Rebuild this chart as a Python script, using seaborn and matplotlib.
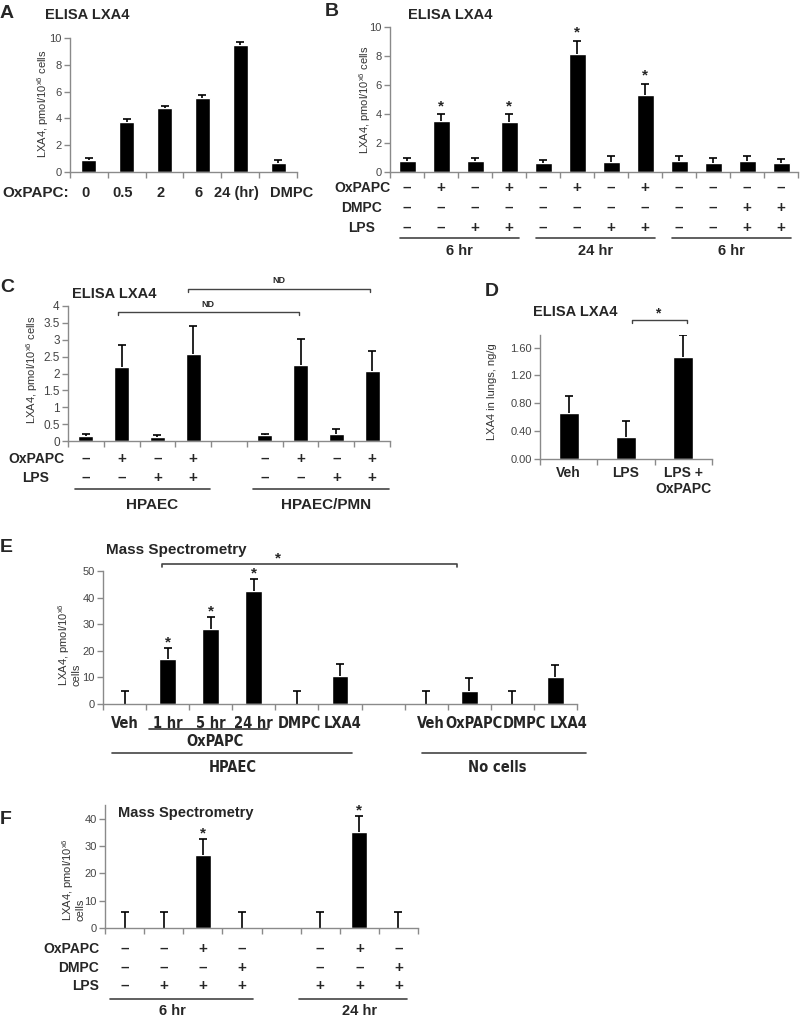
import numpy as np
import pandas as pd
import matplotlib
matplotlib.use("Agg")
import matplotlib.pyplot as plt
import matplotlib.transforms as mtransforms
from matplotlib import font_manager as fm
import seaborn as sns

# ---- data ----
# A: ELISA, OxPAPC time course
a_labels = ["0", "0.5", "2", "6", "24 (hr)", "DMPC"]
a_vals = [0.90, 3.72, 4.74, 5.54, 9.45, 0.65]
a_err = [0.15, 0.27, 0.15, 0.20, 0.25, 0.25]

# B: ELISA, OxPAPC / DMPC / LPS
b_vals = [0.76, 3.50, 0.76, 3.46, 0.62, 8.17, 0.69, 5.34, 0.73, 0.62, 0.73, 0.64]
b_err = [0.24, 0.47, 0.24, 0.51, 0.21, 0.87, 0.39, 0.76, 0.39, 0.37, 0.35, 0.28]
b_stars = [1, 3, 5, 7]
b_oxpapc = "-+-+-+-+----"
b_dmpc = "----------++"
b_lps = "--++--++--++"
b_groups = ["6 hr", "24 hr", "6 hr"]

# C: ELISA, HPAEC vs HPAEC/PMN (gap between groups)
c_cats = ["h1", "h2", "h3", "h4", "p1", "p2", "p3", "p4"]
c_order = ["h1", "h2", "h3", "h4", "gap", "p1", "p2", "p3", "p4"]
c_vals = [0.15, 2.18, 0.13, 2.57, 0.18, 2.24, 0.22, 2.08]
c_err = [0.05, 0.65, 0.05, 0.85, 0.03, 0.78, 0.13, 0.60]
c_oxpapc = "-+-+ -+-+"
c_lps = "--++ --++"
c_groups = ["HPAEC", "HPAEC/PMN"]

# D: lungs
d_labels = ["Veh", "LPS", "LPS +\nOxPAPC"]
d_vals = [0.66, 0.32, 1.47]
d_err = [0.25, 0.22, 0.31]

# E: mass spectrometry
e_cats = ["Veh", "1 hr", "5 hr", "24 hr", "DMPC", "LXA4",
          "nVeh", "nOxPAPC", "nDMPC", "nLXA4"]
e_order = ["Veh", "1 hr", "5 hr", "24 hr", "DMPC", "LXA4", "gap",
           "nVeh", "nOxPAPC", "nDMPC", "nLXA4"]
e_labels = ["Veh", "1 hr", "5 hr", "24 hr", "DMPC", "LXA4",
            "Veh", "OxPAPC", "DMPC", "LXA4"]
e_vals = [0, 16.8, 28.3, 42.6, 0, 10.4, 0, 5.0, 0, 10.0]
e_err = [4.9, 4.4, 4.5, 4.5, 4.9, 4.6, 4.9, 4.65, 4.9, 4.7]
e_stars = [1, 2, 3]

# F: mass spectrometry, LPS
f_cats = ["a1", "a2", "a3", "a4", "b1", "b2", "b3"]
f_order = ["a1", "a2", "a3", "a4", "gap", "b1", "b2", "b3"]
f_vals = [0, 0, 26.7, 0, 0, 35.2, 0]
f_err = [6.0, 6.0, 5.7, 6.0, 6.0, 5.8, 6.0]
f_stars = [2, 5]
f_oxpapc = "--+- -+-"
f_dmpc = "---+ --+"
f_lps = "-+++ +++"
f_groups = ["6 hr", "24 hr"]

YLAB = r"LXA4, pmol/10$^{\mathrm{x6}}$ cells"
YLAB2 = "LXA4, pmol/10$^{\\mathrm{x6}}$\ncells"

sns.set_theme(style="white")
plt.rcParams["font.family"] = ["Liberation Sans", "DejaVu Sans"]
plt.rcParams["mathtext.fontset"] = "custom"
plt.rcParams["mathtext.rm"] = "Liberation Sans"

# condensed bold font for panel E labels, if one is installed
narrow = None
for f in fm.fontManager.ttflist:
    nm = (f.name + " " + str(f.stretch)).lower()
    if ("narrow" in nm or "condensed" in nm) and f.weight in ("bold", 700):
        narrow = f.fname
        break
if narrow:
    NARROW = dict(fontproperties=fm.FontProperties(fname=narrow, size=10.5))
else:
    NARROW = dict(fontweight="bold", fontsize=9)

W, H = 800, 1017
GRAY = "#8a8a8a"
fig = plt.figure(figsize=(W / 100, H / 100), dpi=100)
fig.patch.set_facecolor("white")


def panel(x0, x1, y0, y1):
    return fig.add_axes([x0 / W, 1 - y1 / H, (x1 - x0) / W, (y1 - y0) / H])


def fy(y):
    return 1 - y / H


def blend(ax):
    return mtransforms.blended_transform_factory(ax.transData, fig.transFigure)


def ftext(x, y, s, **kw):
    fig.text(x / W, fy(y), s, **kw)


def dtext(ax, x, y, s, **kw):
    kw.setdefault("ha", "center")
    kw.setdefault("va", "center")
    ax.text(x, fy(y), s, transform=blend(ax), **kw)


def dline(ax, x0, x1, y, tick=0, lw=1.2, color="#444"):
    if tick:
        xs, ys = [x0, x0, x1, x1], [fy(y + tick), fy(y), fy(y), fy(y + tick)]
    else:
        xs, ys = [x0, x1], [fy(y), fy(y)]
    ax.plot(xs, ys, transform=blend(ax), clip_on=False, color=color, lw=lw)


def draw_bars(ax, order, cats, vals, errs, width=0.42):
    df = pd.DataFrame({"cond": cats, "val": vals})
    sns.barplot(data=df, x="cond", y="val", order=order, color="black",
                width=width, saturation=1, errorbar=None, ax=ax)
    xs = [order.index(c) for c in cats]
    vals = np.asarray(vals, float)
    _, caps, _ = ax.errorbar(xs, vals, yerr=[np.zeros(len(vals)), errs], fmt="none",
                             ecolor="black", elinewidth=1.2, capsize=2.8, capthick=1.2)
    # only the upper caps are drawn in the source figure
    for cl in caps:
        if np.allclose(cl.get_ydata(), vals):
            cl.set_visible(False)
    return xs


def style(ax, n, ylim, yticks, fmt, labelsize=8):
    ax.set_xlim(-0.5, n - 0.5)
    ax.set_ylim(*ylim)
    ax.set_yticks(yticks)
    ax.set_yticklabels([fmt(t) for t in yticks])
    ax.set_xticks([])
    ax.set_xticks(np.arange(-0.5, n), minor=True)
    ax.tick_params(axis="x", which="minor", length=4, width=1, color=GRAY,
                   direction="out", bottom=True)
    ax.tick_params(axis="y", length=4, width=1, color=GRAY, left=True,
                   labelsize=labelsize, labelcolor="#444", pad=2)
    for s in ["top", "right"]:
        ax.spines[s].set_visible(False)
    for s in ["left", "bottom"]:
        ax.spines[s].set_color(GRAY)
        ax.spines[s].set_linewidth(1)
    ax.set_xlabel("")
    ax.set_ylabel("")
    ax.set_facecolor("none")


def stars(ax, xs, vals, errs, idx, off=0):
    for i in idx:
        ax.annotate("*", (xs[i], vals[i] + errs[i]), xytext=(0, off),
                    textcoords="offset points", ha="center", va="bottom",
                    fontsize=11, fontweight="bold", annotation_clip=False)


def sign_row(ax, xs, signs, y, size=11):
    for x, s in zip(xs, signs):
        if s == " ":
            continue
        dtext(ax, x, y, "+" if s == "+" else "\u2013", fontsize=size,
              fontweight="bold")


BOLD = dict(fontweight="bold", fontsize=10)
LET = dict(fontweight="bold", fontsize=14, va="center")
TIT = dict(fontweight="bold", fontsize=10.5, va="center")

# ---- A ----
axA = panel(70, 297, 38, 172)
xs = draw_bars(axA, a_labels, a_labels, a_vals, a_err, width=0.4)
style(axA, 6, (0, 10), np.arange(0, 11, 2), lambda t: f"{t:.0f}")
ftext(0, 13, "A", **LET)
ftext(45, 15, "ELISA LXA4", **TIT)
ftext(43, 104, YLAB, rotation=90, ha="center", va="center", fontsize=8, color="#333")
ftext(2, 193, "OxPAPC:", ha="left", va="center", fontweight="bold", fontsize=11)
a_shift = [-0.1, -0.1, -0.1, -0.1, -0.1, 0.36]
for x, dx, lab in zip(xs, a_shift, a_labels):
    dtext(axA, x + dx, 193, lab, fontweight="bold", fontsize=10.5)

# ---- B ----
axB = panel(390, 798, 27, 172)
b_order = [f"b{i}" for i in range(12)]
xs = draw_bars(axB, b_order, b_order, b_vals, b_err, width=0.5)
style(axB, 12, (0, 10), np.arange(0, 11, 2), lambda t: f"{t:.0f}")
stars(axB, xs, b_vals, b_err, b_stars, off=1)
ftext(325, 12, "B", **LET)
ftext(408, 15, "ELISA LXA4", **TIT)
ftext(365, 100, YLAB, rotation=90, ha="center", va="center", fontsize=8, color="#333")
for lab, signs, y in zip(["OxPAPC", "DMPC", "LPS"], [b_oxpapc, b_dmpc, b_lps], [188, 208, 228]):
    ftext(362, y, lab, ha="center", va="center", **BOLD)
    sign_row(axB, xs, signs, y)
for g, name in enumerate(b_groups):
    dline(axB, 4 * g - 0.2, 4 * g + 3.3, 238)
    dtext(axB, 4 * g + 1.55, 251, name, fontweight="bold", fontsize=10.5)

# ---- C ----
axC = panel(68, 390, 306, 441)
xs = draw_bars(axC, c_order, c_cats, c_vals, c_err, width=0.42)
style(axC, 9, (0, 4), np.arange(0, 4.01, 0.5), lambda t: f"{t:g}", labelsize=8.5)
ftext(0, 288, "C", **LET)
ftext(72, 294, "ELISA LXA4", **TIT)
ftext(32, 370, YLAB, rotation=90, ha="center", va="center", fontsize=8, color="#333")
slots = list(range(9))
for lab, signs, y in zip(["OxPAPC", "LPS"], [c_oxpapc, c_lps], [459, 478]):
    ftext(36, y, lab, ha="center", va="center", **BOLD)
    sign_row(axC, slots, signs, y)
dline(axC, -0.3, 3.48, 489)
dline(axC, 4.68, 8.46, 489)
dtext(axC, 1.85, 505, c_groups[0], fontweight="bold", fontsize=11)
dtext(axC, 6.7, 505, c_groups[1], fontweight="bold", fontsize=11)
dline(axC, 0.9, 5.97, 312, tick=3, lw=1)
dtext(axC, 3.4, 304, "ND", fontweight="bold", fontsize=6.5)
dline(axC, 2.85, 7.93, 289, tick=3, lw=1)
dtext(axC, 5.4, 281, "ND", fontweight="bold", fontsize=6.5)

# ---- D ----
axD = panel(540, 712, 335, 459)
xs = draw_bars(axD, d_labels, d_labels, d_vals, d_err, width=0.35)
style(axD, 3, (0, 1.78), np.arange(0, 1.61, 0.4), lambda t: f"{t:.2f}")
ftext(485, 292, "D", **LET)
ftext(533, 312, "ELISA LXA4", **TIT)
ftext(492, 392, "LXA4 in lungs, ng/g", rotation=90, ha="center", va="center",
      fontsize=8, color="#333")
for x, lab in zip(xs, d_labels):
    dtext(axD, x, 466, lab, va="top", linespacing=1.2, **BOLD)
dline(axD, 1.1, 2.07, 320, tick=3, lw=1)
dtext(axD, 1.56, 313, "*", fontweight="bold", fontsize=10)

# ---- E ----
axE = panel(103, 577, 571, 704)
xs = draw_bars(axE, e_order, e_cats, e_vals, e_err, width=0.39)
style(axE, 11, (0, 50), np.arange(0, 51, 10), lambda t: f"{t:.0f}", labelsize=8)
stars(axE, xs, e_vals, e_err, e_stars, off=-1)
ftext(0, 548, "E", **LET)
ftext(106, 550, "Mass Spectrometry", fontweight="bold", fontsize=11, va="center")
ftext(69, 645, YLAB2, rotation=90, ha="center", va="center", multialignment="left",
      fontsize=8, color="#333", linespacing=0.95)
e_shift = [0, 0, 0, 0, 0.05, 0.05, 0.1, 0.1, 0.28, 0.3]
for x, dx, lab in zip(xs, e_shift, e_labels):
    dtext(axE, x + dx, 723, lab, **NARROW)
dline(axE, 0.56, 3.32, 729, color="#333")
dtext(axE, 2.09, 742, "OxPAPC", **NARROW)
dline(axE, -0.3, 5.27, 753)
dline(axE, 6.9, 10.7, 753)
dtext(axE, 2.5, 768, "HPAEC", **NARROW)
dtext(axE, 8.64, 768, "No cells", **NARROW)
dline(axE, 0.86, 7.71, 564, tick=3)
dtext(axE, 3.55, 558, "*", fontweight="bold", fontsize=11)

# ---- F ----
axF = panel(105, 418, 805, 928)
xs = draw_bars(axF, f_order, f_cats, f_vals, f_err, width=0.4)
style(axF, 8, (0, 45), np.arange(0, 41, 10), lambda t: f"{t:.0f}", labelsize=8)
stars(axF, xs, f_vals, f_err, f_stars, off=-1)
ftext(0, 819, "F", **LET)
ftext(118, 813, "Mass Spectrometry", fontweight="bold", fontsize=10.5, va="center")
ftext(73, 880, YLAB2, rotation=90, ha="center", va="center", multialignment="left",
      fontsize=8, color="#333", linespacing=0.95)
slots = list(range(8))
for lab, signs, y in zip(["OxPAPC", "DMPC", "LPS"], [f_oxpapc, f_dmpc, f_lps], [949, 968, 986]):
    ftext(99, y, lab, ha="right", va="center", **BOLD)
    sign_row(axF, slots, signs, y)
dline(axF, -0.37, 3.28, 999)
dline(axF, 4.45, 7.23, 999)
dtext(axF, 1.23, 1011, f_groups[0], fontweight="bold", fontsize=10.5)
dtext(axF, 6.0, 1011, f_groups[1], fontweight="bold", fontsize=10.5)

fig.savefig("out.png", dpi=100, facecolor="white")
